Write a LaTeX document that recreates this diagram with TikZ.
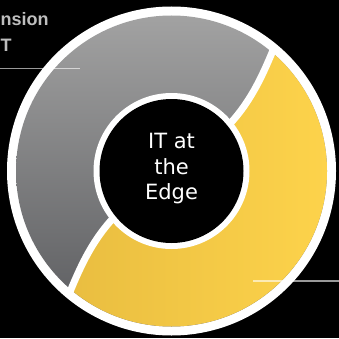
\documentclass[tikz,border=0pt]{standalone}
\usepackage{fontspec}
\setmainfont{DejaVu Sans}
\newfontfamily\labelfont{Liberation Sans}
\definecolor{graytop}{RGB}{162,162,162}
\definecolor{graybot}{RGB}{90,91,94}
\definecolor{yelleft}{RGB}{229,185,62}
\definecolor{yelright}{RGB}{253,211,75}
\definecolor{labelgray}{RGB}{190,190,190}
\tikzset{
  divider/.style={white, line width=7pt},
  leader/.style={white, opacity=0.6, line width=1.2pt},
  sidelabel/.style={text=labelgray, font=\labelfont\bfseries\fontsize{18}{22}\selectfont, inner sep=0pt, anchor=base west},
  centertext/.style={text=white, align=center, font=\fontsize{21}{25.5}\selectfont, inner sep=0pt}
}
\begin{document}
\begin{tikzpicture}[x=1pt,y=1pt]
\useasboundingbox (0,0) rectangle (339,338);
\fill[black] (0,0) rectangle (339,338);
\coordinate (C) at (171.5,167);
\fill[white] (C) circle (164.5);
\begin{scope}[shift={(C)}]
  \begin{scope}
    \clip (0,0) circle (155.5);
    \shade[top color=graytop, bottom color=graybot] (-156,-156) rectangle (156,156);
    \begin{scope}
      \clip (160.7,191.5) -- (101.6,121) .. controls (90.2,93.4) and (79.1,70) .. (59,47.8) -- (0,0)
        -- (-59,-47.8) .. controls (-79.1,-70) and (-90.2,-93.4) .. (-101.6,-121) -- (-160.7,-191.5)
        arc[start angle=230, end angle=410, radius=250] -- cycle;
      \shade[left color=yelleft, right color=yelright] (-156,-156) rectangle (156,156);
    \end{scope}
  \end{scope}
  \begin{scope}
    \clip (0,0) circle (160);
    \draw[divider] (107.5,128) -- (101.6,121) .. controls (90.2,93.4) and (79.1,70) .. (59,47.8);
    \draw[divider] (-107.5,-128) -- (-101.6,-121) .. controls (-90.2,-93.4) and (-79.1,-70) .. (-59,-47.8);
  \end{scope}
  \fill[white] (0,0) circle (78);
  \fill[black] (0,0) circle (72);
\end{scope}
\node[centertext] (hub) at ([yshift=2]C) {IT at\\the\\Edge};
\node[sidelabel] (lab1) at (0.5,312) {nsion};
\node[sidelabel] (lab2) at (0.5,286.3) {T};
\coordinate (l1a) at (0,269.7);
\coordinate (l1b) at (80,269.7);
\coordinate (l2a) at (253,57);
\coordinate (l2b) at (339,57);
\draw[leader] (l1a) -- (l1b);
\draw[leader] (l2a) -- (l2b);
\end{tikzpicture}
\end{document}
